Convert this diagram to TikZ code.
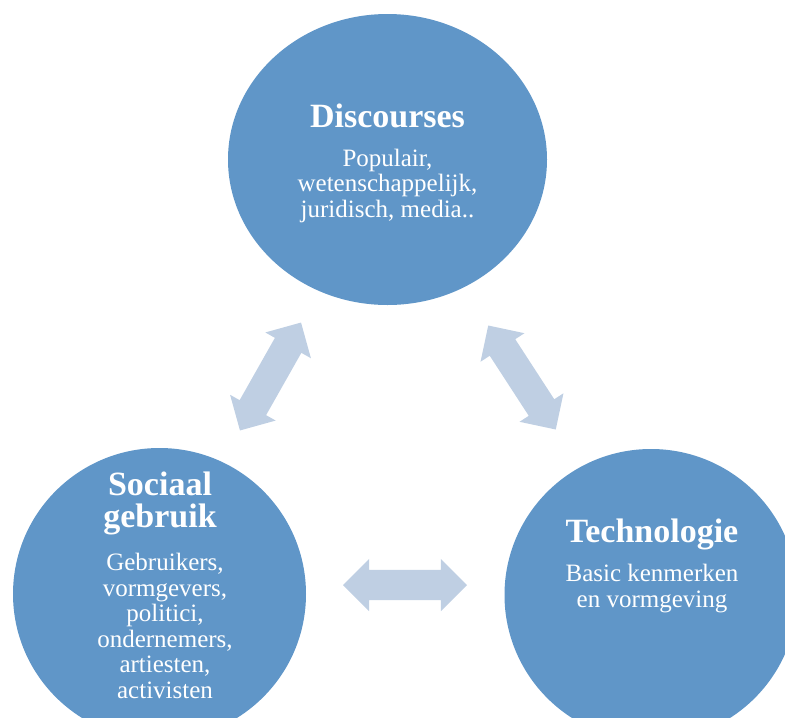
\documentclass[tikz,border=0pt]{standalone}
\usepackage{fontspec}
\setmainfont{Liberation Serif}
\usetikzlibrary{shapes.geometric,shapes.arrows}
\definecolor{topicblue}{HTML}{6096C8}
\definecolor{linkblue}{HTML}{BFCFE3}
\tikzset{
  topic/.style={ellipse, fill=topicblue, inner sep=0pt},
  % shaft 30pt wide (2 x inner ysep), heads 52pt wide, 124pt tip to tip
  link/.style={double arrow, fill=linkblue, inner xsep=0pt, inner ysep=15pt,
    minimum height=124pt,
    double arrow head extend=11pt, double arrow tip angle=90},
  % multi-line labels are placed by the baseline of their last line
  title/.style={text=white, align=center, anchor=base,
    font=\fontsize{34}{32}\selectfont\bfseries},
  body/.style={text=white, align=center, anchor=base,
    font=\fontsize{25}{25.5}\selectfont}
}
\begin{document}
\begin{tikzpicture}[x=1pt,y=-1pt]
  \useasboundingbox (0,0) rectangle (785,718);
  \clip (0,0) rectangle (785,718);

  % the three themes
  \node[topic, minimum width=319pt, minimum height=291pt] (disc) at (387.5,159.5) {};
  \node[topic, minimum width=293pt, minimum height=292pt] (soc) at (159.5,594) {};
  \node[topic, minimum width=293pt, minimum height=292pt] (tech) at (651,595) {};

  % two-way links between the themes
  \node[link, rotate=60.5] (discsoc) at (270.5,376.5) {};
  \node[link, rotate=-57] (disctech) at (522,377.5) {};
  \node[link] (soctech) at (405,585) {};

  % labels
  \node[title] (disct) at (387.5,127) {Discourses};
  \node[body] (discb) at (387.5,217) {Populair,\\wetenschappelijk,\\juridisch, media..};

  \node[title] (soct) at (160,527) {Sociaal\\gebruik};
  \node[body] (socb) at (165,698) {Gebruikers,\\vormgevers,\\politici,\\ondernemers,\\artiesten,\\activisten};

  \node[title] (techt) at (652,542) {Technologie};
  \node[body] (techb) at (652,607) {Basic kenmerken\\en vormgeving};
\end{tikzpicture}
\end{document}
